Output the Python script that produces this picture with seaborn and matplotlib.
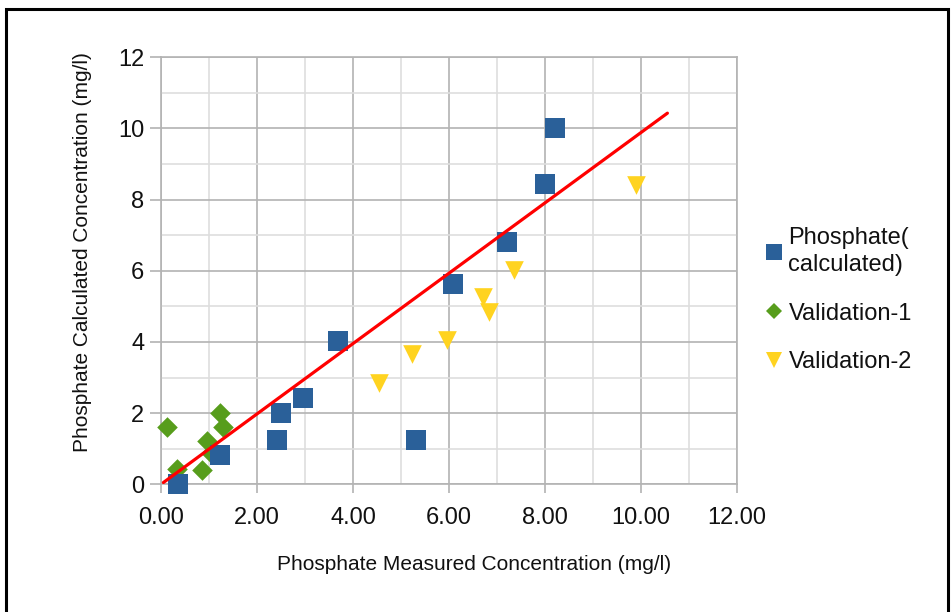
import matplotlib
matplotlib.use("Agg")
import matplotlib.pyplot as plt
import seaborn as sns
import pandas as pd
from matplotlib.lines import Line2D
from matplotlib.patches import Rectangle
from matplotlib.ticker import MultipleLocator, FormatStrFormatter

# Phosphate calculated vs measured (mg/l)
calc_measured = [0.36, 1.23, 2.42, 2.49, 2.96, 3.69, 5.31, 6.08, 7.21, 8.00, 8.21]
calc_calculated = [0.00, 0.82, 1.24, 2.01, 2.42, 4.04, 1.24, 5.62, 6.81, 8.43, 10.02]

# Validation set 1
val1_measured = [0.13, 0.33, 0.85, 0.95, 1.04, 1.23, 1.30]
val1_calculated = [1.62, 0.42, 0.40, 1.23, 0.88, 2.01, 1.62]

# Validation set 2
val2_measured = [4.55, 5.22, 5.95, 6.70, 6.83, 7.35, 9.90]
val2_calculated = [2.85, 3.66, 4.05, 5.26, 4.84, 6.02, 8.42]

# Trend line end points
trend_x = [0.05, 10.55]
trend_y = [0.05, 10.43]

series_labels = ["Phosphate(\ncalculated)", "Validation-1", "Validation-2"]
x_ticks = [0, 2, 4, 6, 8, 10, 12]
y_ticks = [0, 2, 4, 6, 8, 10, 12]

BLUE = "#2a6099"
GREEN = "#579d1c"
YELLOW = "#ffd320"
RED = "#ff0000"

sns.set_style("white")
plt.rcParams["font.family"] = ["Liberation Sans", "DejaVu Sans"]

fig = plt.figure(figsize=(9.52, 6.12), dpi=100)
ax = fig.add_axes([161 / 952, 1 - 484.3 / 612, 576 / 952, 427 / 612])

df_v2 = pd.DataFrame({"x": val2_measured, "y": val2_calculated})
df_v1 = pd.DataFrame({"x": val1_measured, "y": val1_calculated})
df_c = pd.DataFrame({"x": calc_measured, "y": calc_calculated})
df_t = pd.DataFrame({"x": trend_x, "y": trend_y})

sns.scatterplot(data=df_v2, x="x", y="y", marker="v", s=180, color=YELLOW,
                linewidth=0, ax=ax, zorder=3, clip_on=False)
sns.scatterplot(data=df_v1, x="x", y="y", marker="D", s=110, color=GREEN,
                linewidth=0, ax=ax, zorder=3, clip_on=False)
sns.scatterplot(data=df_c, x="x", y="y", marker="s", s=205, color=BLUE,
                linewidth=0, ax=ax, zorder=4, clip_on=False)
sns.lineplot(data=df_t, x="x", y="y", color=RED, linewidth=2.3, ax=ax,
             zorder=5)

ax.set_xlim(x_ticks[0], x_ticks[-1])
ax.set_ylim(y_ticks[0], y_ticks[-1])
ax.set_xticks(x_ticks)
ax.set_yticks(y_ticks)
ax.xaxis.set_major_formatter(FormatStrFormatter("%.2f"))
ax.xaxis.set_minor_locator(MultipleLocator(1))
ax.yaxis.set_minor_locator(MultipleLocator(1))

ax.set_axisbelow(True)
ax.grid(which="major", color="#b3b3b3", linewidth=1.2)
ax.grid(which="minor", color="#dedede", linewidth=1.2)
for sp in ax.spines.values():
    sp.set_color("#b3b3b3")
    sp.set_linewidth(1.2)

ax.tick_params(axis="x", which="major", direction="out", length=6.5, width=1.2,
               color="#b3b3b3", pad=10, labelsize=17, labelcolor="#111111",
               bottom=True)
ax.tick_params(axis="y", which="major", direction="out", length=8, width=1.2,
               color="#b3b3b3", pad=4, labelsize=17, labelcolor="#111111",
               left=True)
ax.tick_params(which="minor", length=0)

ax.set_xlabel("Phosphate Measured Concentration (mg/l)", fontsize=15,
              color="#111111")
ax.set_ylabel("Phosphate Calculated Concentration (mg/l)", fontsize=15,
              color="#111111")
ax.xaxis.label.set_va("center")
ax.yaxis.label.set_va("center")
ax.xaxis.set_label_coords((474.5 - 161) / 576, (484.3 - 565) / 427)
ax.yaxis.set_label_coords((83 - 161) / 576, (484.3 - 252) / 427)

handles = [
    Line2D([], [], linestyle="none", marker="s", markersize=11,
           markerfacecolor=BLUE, markeredgewidth=0),
    Line2D([], [], linestyle="none", marker="D", markersize=8,
           markerfacecolor=GREEN, markeredgewidth=0),
    Line2D([], [], linestyle="none", marker="v", markersize=11.5,
           markerfacecolor=YELLOW, markeredgewidth=0),
]
leg = fig.legend(handles, series_labels, loc="upper left",
                 bbox_to_anchor=(766 / 952, 1 - 227 / 612), frameon=False,
                 fontsize=17, handlelength=0.7, handletextpad=0.25,
                 labelspacing=1.12, borderpad=0, borderaxespad=0,
                 labelcolor="#111111")
for t in leg.get_texts():
    t.set_linespacing(1.3)

# Outer frame around the chart
fig.patches.append(Rectangle((6 / 952, -0.05), 942 / 952, 1.05 - 9 / 612,
                             transform=fig.transFigure, fill=False,
                             edgecolor="black", linewidth=2.2))

fig.savefig("out.png", dpi=100, facecolor="white")
